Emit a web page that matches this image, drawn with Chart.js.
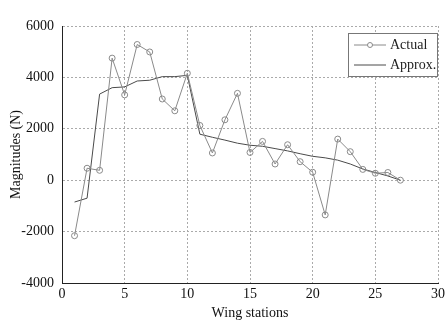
<!DOCTYPE html>
<html>
<head>
<meta charset="utf-8">
<script src="https://cdn.jsdelivr.net/npm/chart.js@4.4.1/dist/chart.umd.min.js"></script>
<style>
  html, body { margin: 0; padding: 0; background: #fff; }
  #wrap { width: 448px; height: 324px; }
</style>
</head>
<body>
<div id="wrap"><canvas id="grafica" width="448" height="324"></canvas></div>
<script>
// Estaciones del ala (eje X)
const stations = [1, 2, 3, 4, 5, 6, 7, 8, 9, 10, 11, 12, 13, 14, 15, 16, 17, 18, 19, 20, 21, 22, 23, 24, 25, 26, 27];
// Magnitudes medidas (N)
const actualValues = [-2160, 465, 385, 4750, 3320, 5280, 4990, 3160, 2700, 4160, 2130, 1060, 2350, 3380, 1080, 1510, 630, 1380, 720, 310, -1350, 1600, 1110, 420, 270, 300, 0];
// Magnitudes aproximadas (N)
const approxValues = [-850, -700, 3350, 3600, 3630, 3860, 3890, 4030, 4030, 4080, 1790, 1670, 1560, 1440, 1360, 1320, 1230, 1140, 1030, 930, 870, 780, 630, 436, 300, 165, 0];
// Etiquetas de los ejes
const xTicks = [0, 5, 10, 15, 20, 25, 30];
const yTicks = [-4000, -2000, 0, 2000, 4000, 6000];

const FONT = "'Liberation Serif', 'Times New Roman', serif";

// Leyenda dibujada dentro del area del grafico con borde
const legendBox = {
    id: 'legendBox',
    afterDraw(chart) {
        const ctx = chart.ctx;
        const x = 348, y = 33, w = 89, h = 43;
        ctx.save();
        ctx.fillStyle = '#fff';
        ctx.fillRect(x, y, w, h);
        ctx.strokeStyle = '#777';
        ctx.lineWidth = 1;
        ctx.strokeRect(x + 0.5, y + 0.5, w, h);
        ctx.font = '14px ' + FONT;
        ctx.fillStyle = '#222';
        ctx.textBaseline = 'middle';
        chart.data.datasets.forEach((ds, i) => {
            const ly = y + 12 + i * 20;
            ctx.strokeStyle = ds.borderColor;
            ctx.lineWidth = 1;
            ctx.beginPath();
            ctx.moveTo(x + 6, ly);
            ctx.lineTo(x + 38, ly);
            ctx.stroke();
            if (ds.pointRadius > 0) {
                ctx.beginPath();
                ctx.arc(x + 22, ly, 2.5, 0, Math.PI * 2);
                ctx.fillStyle = '#fff';
                ctx.fill();
                ctx.stroke();
            }
            ctx.fillStyle = '#222';
            ctx.fillText(ds.label, x + 42, ly);
        });
        ctx.restore();
    }
};

new Chart(document.getElementById('grafica'), {
    type: 'line',
    data: {
        datasets: [
            {
                label: 'Actual',
                data: stations.map((s, i) => ({ x: s, y: actualValues[i] })),
                borderColor: '#8a8a8a',
                borderWidth: 1,
                pointRadius: 3,
                pointBorderWidth: 1,
                pointBackgroundColor: 'rgba(255,255,255,0)',
                pointBorderColor: '#8a8a8a',
                tension: 0
            },
            {
                label: 'Approx.',
                data: stations.map((s, i) => ({ x: s, y: approxValues[i] })),
                borderColor: '#4a4a4a',
                borderWidth: 1,
                pointRadius: 0,
                tension: 0
            }
        ]
    },
    options: {
        responsive: false,
        animation: false,
        layout: { padding: { left: 0, top: 26, right: 10, bottom: 0 } },
        plugins: { legend: { display: false }, tooltip: { enabled: false } },
        scales: {
            x: {
                type: 'linear',
                min: 0, max: 30,
                afterBuildTicks: (scale) => { scale.ticks = xTicks.map(v => ({ value: v })); },
                afterFit: (scale) => { scale.height = 41; },
                grid: { color: '#aaa', drawTicks: false, lineWidth: 1 },
                border: { color: '#222', width: 1, dash: [2, 2] },
                ticks: { color: '#111', font: { family: FONT, size: 14 }, padding: 3, maxRotation: 0, callback: (v) => String(v) },
                title: { display: true, text: 'Wing stations', color: '#111', font: { family: FONT, size: 14 }, padding: { top: 0, bottom: 2 } }
            },
            y: {
                min: -4000, max: 6000,
                afterBuildTicks: (scale) => { scale.ticks = yTicks.map(v => ({ value: v })); },
                afterFit: (scale) => { scale.width = 62; },
                grid: { color: '#aaa', drawTicks: false, lineWidth: 1 },
                border: { color: '#222', width: 1, dash: [2, 2] },
                ticks: { color: '#111', font: { family: FONT, size: 14 }, padding: 8, callback: (v) => String(v) },
                title: { display: true, text: 'Magnitudes (N)', color: '#111', font: { family: FONT, size: 14 }, padding: { top: 8, bottom: 0 } }
            }
        }
    },
    plugins: [legendBox]
});
</script>
</body>
</html>
